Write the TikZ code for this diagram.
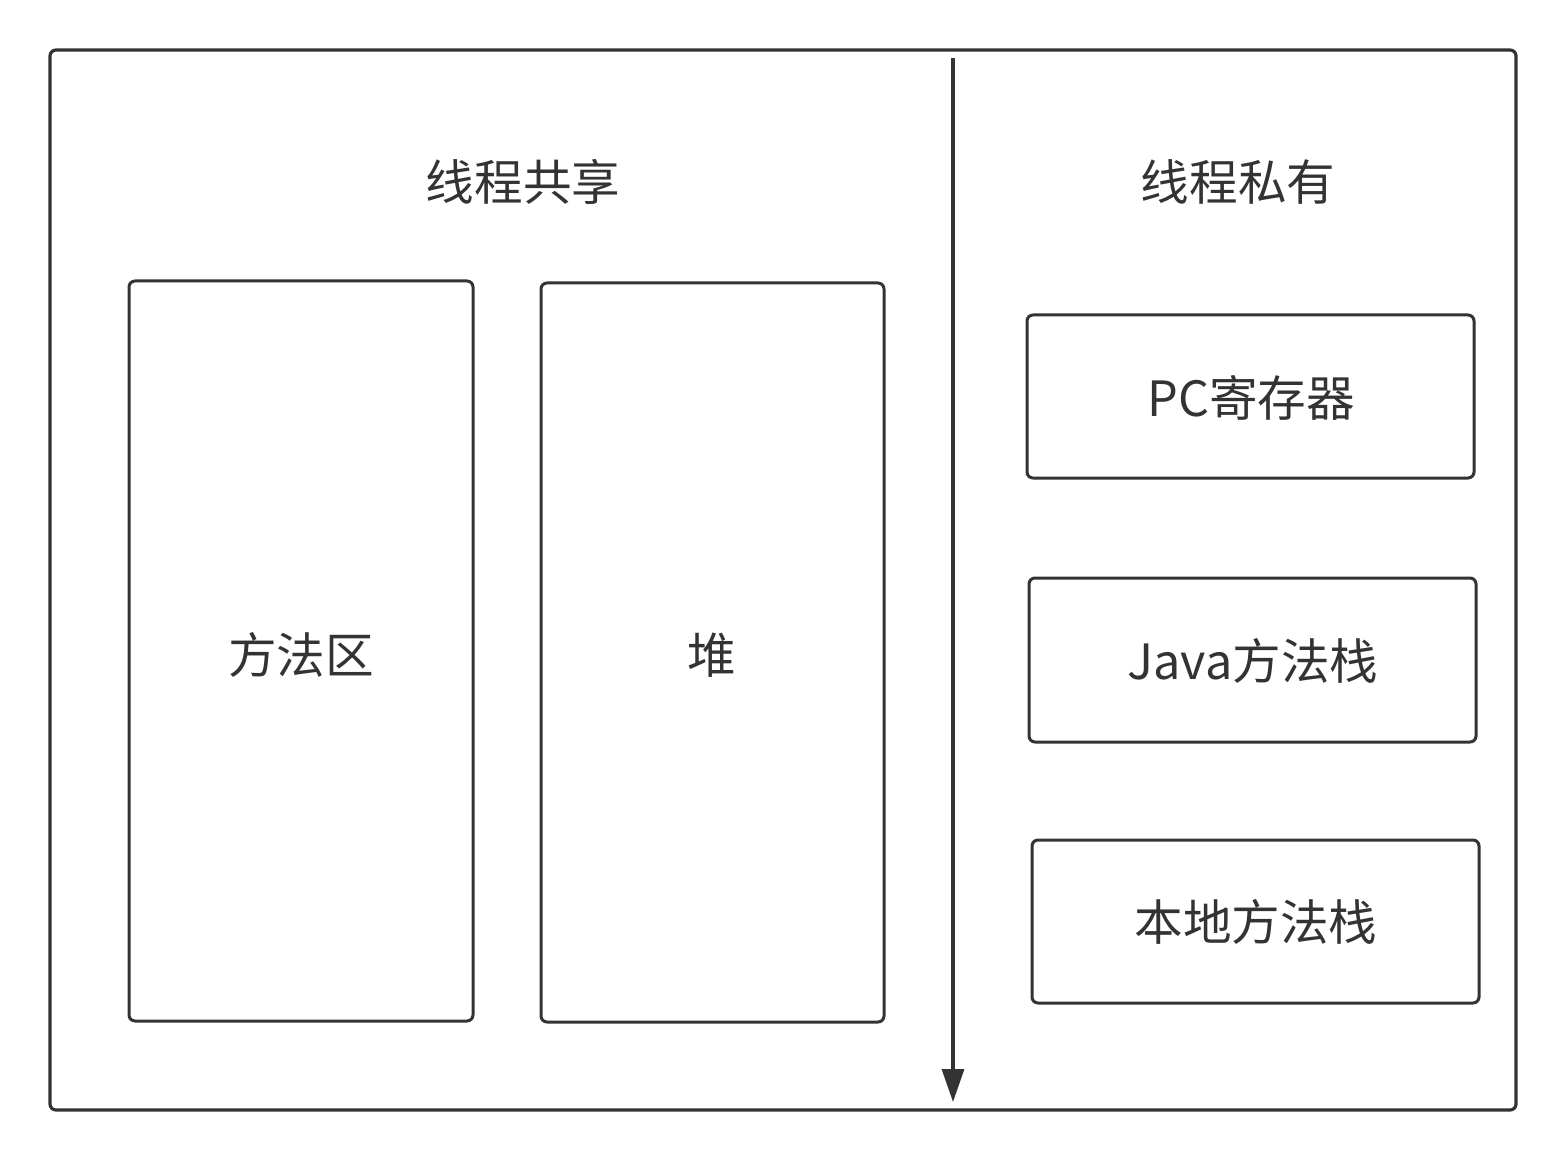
\documentclass[tikz,border=0pt]{standalone}
\usepackage{fontspec}
\setmainfont{Noto Sans CJK SC}
\usetikzlibrary{arrows.meta}
\definecolor{ink}{HTML}{333333}
\begin{document}
\begin{tikzpicture}[x=0.5pt,y=-0.5pt,
  frame/.style={draw=ink,line width=1.6pt,rounded corners=3pt},
  label/.style={text=ink,font=\fontsize{24.3pt}{29pt}\selectfont,inner sep=0pt},
  area/.style={draw=ink,line width=1.5pt,rounded corners=3pt}]
  \useasboundingbox (0,0) rectangle (1566,1160);
  % outer frame
  \draw[frame] (50,50) rectangle (1516,1110);
  % divider between shared and private areas
  \coordinate (dtop) at (953,58);
  \coordinate (dbot) at (953,1102);
  \draw[ink,line width=1.6pt,-{Triangle[length=16.5pt,width=11pt]}] (dtop) -- (dbot);
  % headings
  \node[label] (shared) at (523,182) {线程共享};
  \node[label] (private) at (1238,182) {线程私有};
  % shared regions
  \draw[area] (129,281) rectangle (473,1021);
  \node[label] (method) at (301,655) {方法区};
  \draw[area] (541,283) rectangle (884,1022);
  \node[label] (heap) at (712,655) {堆};
  % private regions
  \draw[area] (1027,315) rectangle (1474,478);
  \node[label] (pc) at (1251,398) {PC寄存器};
  \draw[area] (1029,578) rectangle (1476,742);
  \node[label] (jstack) at (1253,661) {Java方法栈};
  \draw[area] (1032,840) rectangle (1479,1003);
  \node[label] (nstack) at (1256,922) {本地方法栈};
\end{tikzpicture}
\end{document}
